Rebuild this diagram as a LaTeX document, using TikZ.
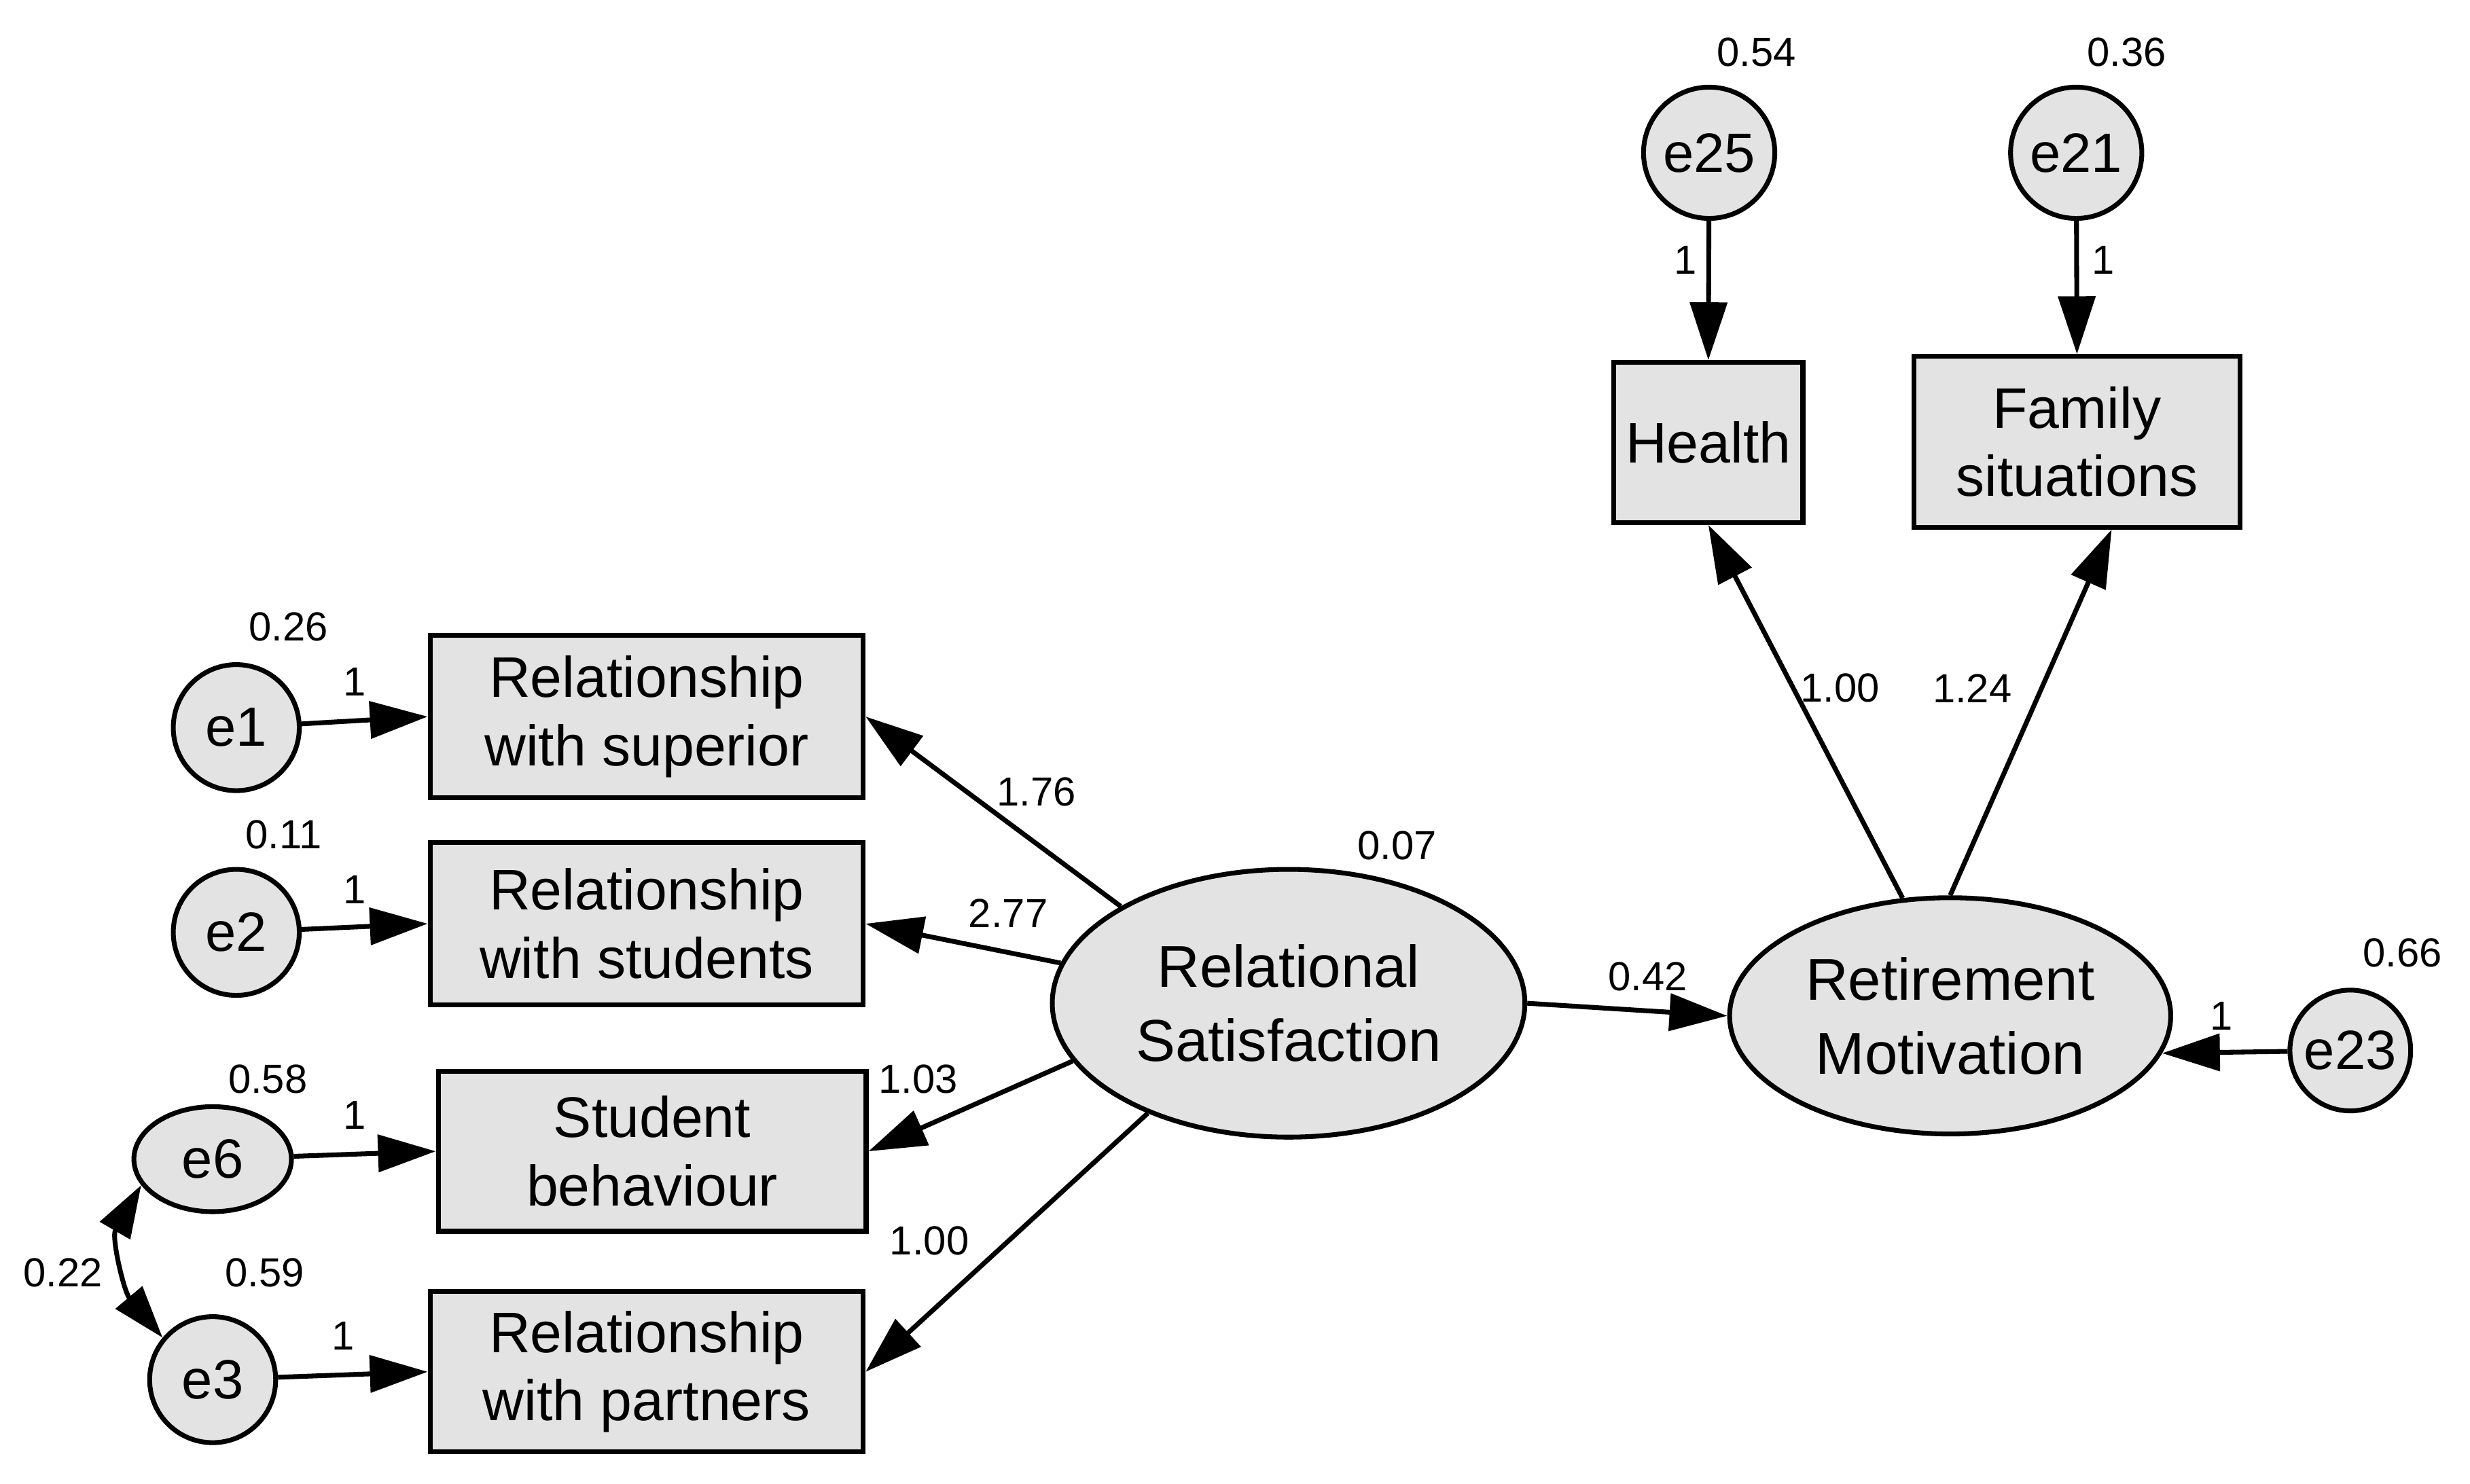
\documentclass[tikz,border=0pt]{standalone}
\usepackage{fontspec}
\setmainfont{Liberation Sans}
\usetikzlibrary{arrows.meta,calc,shapes.geometric}
\begin{document}
\begin{tikzpicture}[x=0.3mm,y=-0.3mm,
  ln/.style={line width=2.6pt},
  arr/.style={ln,-{Triangle[length=11mm,width=7mm]}},
  box/.style={draw,ln,fill=gray!22,font=\fontsize{31}{37}\selectfont,align=center,inner sep=0pt},
  err/.style={draw,ln,fill=gray!22,circle,minimum size=24mm,inner sep=0pt,font=\fontsize{30}{34}\selectfont},
  lat/.style={draw,ln,fill=gray!22,ellipse,inner sep=0pt,font=\fontsize{32}{40}\selectfont,align=center},
  lab/.style={font=\fontsize{22}{26}\selectfont}]
\useasboundingbox (0,0) rectangle (1568,942);
% boxes
\node[box,minimum width=82.5mm,minimum height=31mm] (sup) at (410.5,455) {Relationship\\with superior};
\node[box,minimum width=82.5mm,minimum height=31mm] (stu) at (410.5,586.5) {Relationship\\with students};
\node[box,minimum width=81.5mm,minimum height=30.5mm] (beh) at (414,731) {Student\\behaviour};
\node[box,minimum width=82.5mm,minimum height=30.5mm] (par) at (410.5,871) {Relationship\\with partners};
\node[box,minimum width=36mm,minimum height=30.5mm] (hea) at (1084.5,281) {Health};
\node[box,minimum width=62mm,minimum height=32.5mm] (fam) at (1318.5,280.5) {Family\\situations};
% latents
\node[lat,minimum width=90mm,minimum height=51mm] (rs) at (818,637) {Relational\\Satisfaction};
\node[lat,minimum width=84mm,minimum height=45mm] (rm) at (1238,645) {Retirement\\Motivation};
% errors
\node[err] (e1) at (150,462) {e1};
\node[err] (e2) at (150,592) {e2};
\node[err,ellipse,minimum width=30mm,minimum height=20mm] (e6) at (135,736) {e6};
\node[err] (e3) at (135,876) {e3};
\node[err,minimum size=23mm] (e23) at (1492,667) {e23};
\node[err,minimum size=25mm] (e25) at (1085,97) {e25};
\node[err,minimum size=25mm] (e21) at (1318,97) {e21};
\coordinate (fs) at ($(fam.south)+(22,0)$);
% arrows
\draw[arr] (e1) -- (sup.west);
\draw[arr] (e2) -- (stu.west);
\draw[arr] (e6) -- (beh.west);
\draw[arr] (e3) -- (par.west);
\draw[arr] (rs.150) -- (sup.east);
\draw[arr] (rs.170) -- (stu.east);
\draw[arr] (rs.195) -- (beh.east);
\draw[arr] (rs.218) -- (par.east);
\draw[arr] (rs.east) -- (rm.west);
\draw[arr] (e23) -- (rm.-10);
\draw[arr] (rm.112) -- (hea.south);
\draw[arr] (rm.90) -- (fs);
\draw[arr] (e25) -- (hea.north);
\draw[arr] (e21) -- (fam.north);
\draw[ln,{Triangle[length=10mm,width=6.5mm]}-{Triangle[length=10mm,width=6.5mm]}] (e6.200) to[out=240,in=130] (e3.140);
% labels
\node[lab] at (183,398) {0.26};
\node[lab] at (180,530) {0.11};
\node[lab] at (170,685) {0.58};
\node[lab] at (168,808) {0.59};
\node[lab] at (40,808) {0.22};
\node[lab] at (225,433) {1};
\node[lab] at (225,565) {1};
\node[lab] at (225,708) {1};
\node[lab] at (218,848) {1};
\node[lab] at (658,503) {1.76};
\node[lab] at (640,580) {2.77};
\node[lab] at (583,685) {1.03};
\node[lab] at (590,788) {1.00};
\node[lab] at (887,537) {0.07};
\node[lab] at (1046,620) {0.42};
\node[lab] at (1410,645) {1};
\node[lab] at (1525,605) {0.66};
\node[lab] at (1168,437) {1.00};
\node[lab] at (1252,437) {1.24};
\node[lab] at (1115,33) {0.54};
\node[lab] at (1350,33) {0.36};
\node[lab] at (1070,165) {1};
\node[lab] at (1335,165) {1};
\end{tikzpicture}
\end{document}
